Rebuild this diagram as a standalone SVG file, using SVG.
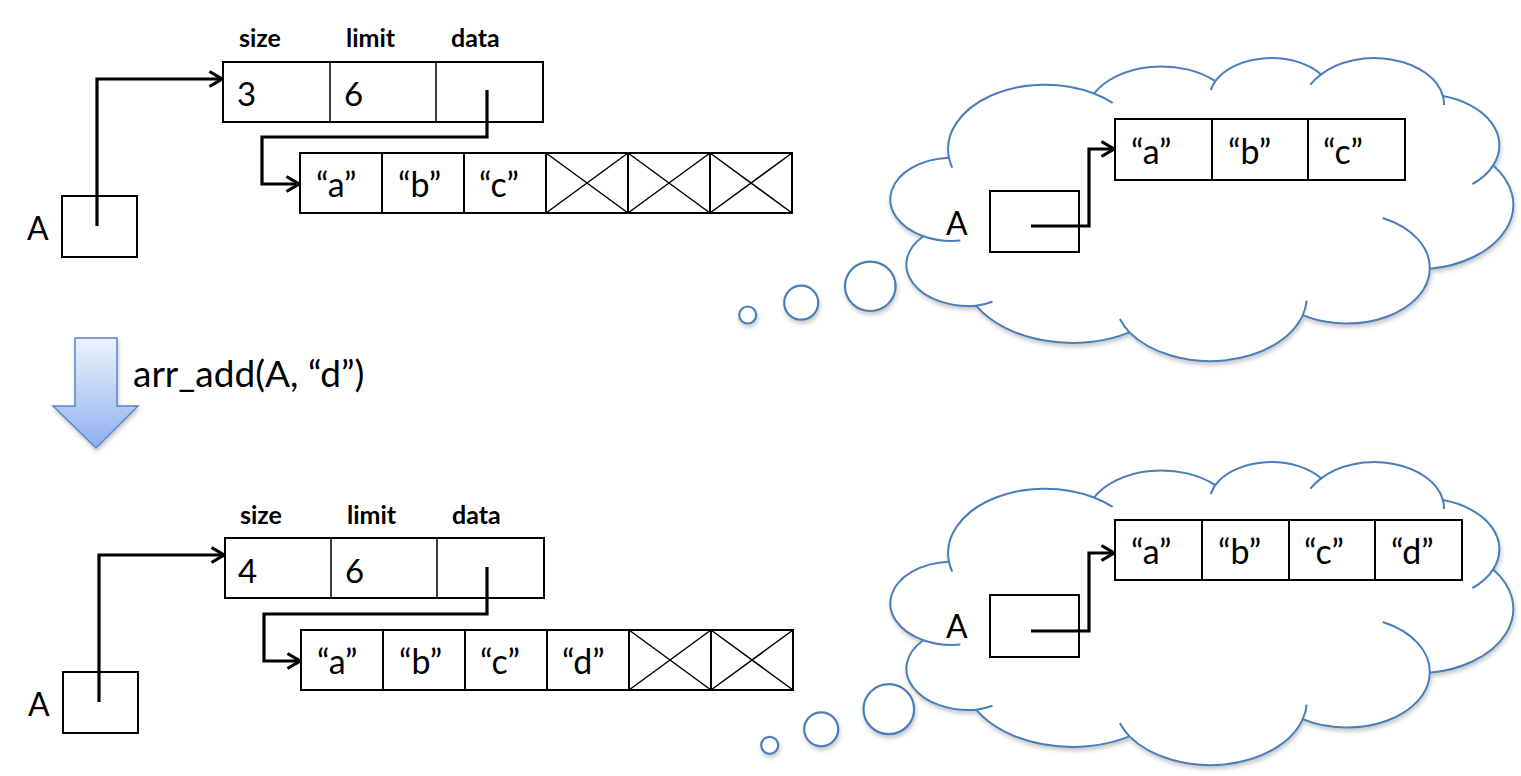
<svg xmlns="http://www.w3.org/2000/svg" width="1521" height="776" viewBox="0 0 1521 776">
<defs>
<style>
.box{fill:#fff;stroke:#000;stroke-width:2}
.thin{stroke:#000;stroke-width:1.5;fill:none}
.ptr{fill:none;stroke:#000;stroke-width:3.2;stroke-linejoin:miter}
.cloud{fill:#fff;stroke:#4a7ebb;stroke-width:2}
.mark{fill:none;stroke:#4a7ebb;stroke-width:2}
.bub{fill:#fff;stroke:#4a7ebb;stroke-width:2.2}
.t{font-family:Lato,'Liberation Sans',sans-serif;fill:#000}
.lbl{font-size:25px;font-weight:bold}
.num{font-size:33px}
.str{font-size:34px}
.big{font-size:32px}
</style>
<marker id="ah" viewBox="0 0 16 18" refX="14" refY="9" markerWidth="16" markerHeight="18" orient="auto" markerUnits="userSpaceOnUse">
<path d="M1.5 1.5 L14 9 L1.5 16.5" fill="none" stroke="#000" stroke-width="3.2"/>
</marker>
<linearGradient id="ag" x1="0" y1="0" x2="0" y2="1">
<stop offset="0" stop-color="#eef3fd"/>
<stop offset="1" stop-color="#8eb0ef"/>
</linearGradient>
<filter id="sh" x="-10%" y="-10%" width="125%" height="130%">
<feDropShadow dx="1" dy="3" stdDeviation="2" flood-color="#000" flood-opacity="0.22"/>
</filter>
<g id="cloudShape">
<path class="cloud" d="M948.97 157.79 A96.92 64.46 0 0 1 1094.0 93.5 A76.54 50.97 0 0 1 1215.3 81.1 A62.65 41.70 0 0 1 1321.2 74.4 A69.71 46.26 0 0 1 1442.9 96.1 A76.54 51.01 0 0 1 1493.2 165.4 A97.23 64.67 0 0 1 1429.8 268.8 A83.03 55.18 0 0 1 1302.8 315.2 A96.90 64.63 0 0 1 1129.5 332.4 A110.80 73.95 0 0 1 976.3 305.8 A62.57 41.51 0 0 1 923.3 236.2 A62.36 41.70 0 0 1 948.97 157.79 Z"/>
<path class="mark" d="M960.35 240.6 A62.36 41.70 0 0 1 923.3 236.2 M992.43 301.78 A62.57 41.51 0 0 1 976.3 305.8 M1129.5 332.4 A96.90 64.63 0 0 1 1119.9 319.0 M1306.7 300.7 A96.90 64.63 0 0 1 1302.8 315.2 M1382.8 218.0 A83.03 55.18 0 0 1 1429.8 268.8 M1493.2 165.4 A76.54 51.01 0 0 1 1472.4 184.2 M1442.9 96.1 A69.71 46.26 0 0 1 1444.0 105.0 M1310.3 84.7 A69.71 46.26 0 0 1 1321.2 74.4 M1210.8 90.1 A62.65 41.70 0 0 1 1215.3 81.1 M1094.0 93.5 A96.92 64.46 0 0 1 1112.6 102.9 M952.2 167.7 A96.92 64.46 0 0 1 948.97 157.79"/>
</g>
</defs>
<rect width="1521" height="776" fill="#fff"/>

<!-- ===== TOP STATE ===== -->
<g id="top-labels" class="t lbl">
<text x="239" y="47">size</text>
<text x="346" y="47">limit</text>
<text x="451" y="47">data</text>
</g>
<g id="top-struct">
<rect class="box" x="223" y="62" width="320" height="60"/>
<line class="thin" x1="330" y1="62" x2="330" y2="122" stroke-width="2"/>
<line class="thin" x1="436" y1="62" x2="436" y2="122" stroke-width="2"/>
<text class="t num" x="237" y="106">3</text>
<text class="t num" x="344" y="106">6</text>
</g>
<g id="top-array">
<rect class="box" x="300" y="153" width="492" height="60"/>
<path class="thin" style="stroke-width:2" d="M382 153V213M464 153V213M546 153V213M628 153V213M710 153V213"/>
<path class="thin" d="M546 153L628 213M628 153L546 213M628 153L710 213M710 153L628 213M710 153L792 213M792 153L710 213"/>
<text class="t str" x="316" y="197">“a”</text>
<text class="t str" x="398" y="197">“b”</text>
<text class="t str" x="479" y="197">“c”</text>
</g>
<g id="top-A">
<rect class="box" x="62" y="196" width="75" height="61"/>
<text class="t big" x="27" y="240">A</text>
</g>

<g id="top-bubbles" filter="url(#sh)">
<circle class="bub" cx="747.7" cy="315" r="8.5"/>
<circle class="bub" cx="801.2" cy="302.7" r="17"/>
<ellipse class="bub" cx="870.3" cy="286.3" rx="25.3" ry="24.7"/>
</g>
<g id="top-cloud" filter="url(#sh)">
<use href="#cloudShape"/>
</g>
<g id="top-cloud-A">
<rect class="box" x="990" y="191" width="89" height="61"/>
<text class="t big" x="946" y="235">A</text>
</g>
<g id="top-cloud-array">
<rect class="box" x="1115" y="119" width="290" height="61"/>
<path class="thin" style="stroke-width:2" d="M1212 119V180M1308 119V180"/>
<text class="t str" x="1131" y="164">“a”</text>
<text class="t str" x="1228" y="164">“b”</text>
<text class="t str" x="1323" y="164">“c”</text>
</g>

<!-- ===== TRANSITION ===== -->
<g id="down-arrow" filter="url(#sh)">
<path d="M75 338H117V406H138L96 448L53 406H75Z" fill="url(#ag)" stroke="#5a85c8" stroke-width="1.5"/>
</g>
<g id="op-label">
<text class="t" x="133" y="387" font-size="37">arr_add(A, “d”)</text>
</g>

<!-- ===== BOTTOM STATE ===== -->
<g id="bot-labels" class="t lbl">
<text x="240" y="524">size</text>
<text x="347" y="524">limit</text>
<text x="452" y="524">data</text>
</g>
<g id="bot-struct">
<rect class="box" x="225" y="538" width="319" height="60"/>
<line class="thin" x1="331" y1="538" x2="331" y2="598" stroke-width="2"/>
<line class="thin" x1="437" y1="538" x2="437" y2="598" stroke-width="2"/>
<text class="t num" x="238" y="583">4</text>
<text class="t num" x="345" y="583">6</text>
</g>
<g id="bot-array">
<rect class="box" x="301" y="630" width="492" height="60"/>
<path class="thin" style="stroke-width:2" d="M383 630V690M465 630V690M547 630V690M629 630V690M711 630V690"/>
<path class="thin" d="M629 630L711 690M711 630L629 690M711 630L793 690M793 630L711 690"/>
<text class="t str" x="317" y="674">“a”</text>
<text class="t str" x="399" y="674">“b”</text>
<text class="t str" x="480" y="674">“c”</text>
<text class="t str" x="562" y="674">“d”</text>
</g>
<g id="bot-A">
<rect class="box" x="63" y="672" width="75" height="61"/>
<text class="t big" x="28" y="716">A</text>
</g>

<g id="bot-bubbles" filter="url(#sh)">
<circle class="bub" cx="769.7" cy="745.3" r="8.5"/>
<circle class="bub" cx="821.2" cy="729.3" r="17"/>
<ellipse class="bub" cx="888.8" cy="709.2" rx="25.3" ry="25"/>
</g>
<g id="bot-cloud" filter="url(#sh)">
<use href="#cloudShape" transform="translate(0 404)"/>
</g>
<g id="bot-cloud-A">
<rect class="box" x="990" y="595" width="89" height="62"/>
<text class="t big" x="946" y="638">A</text>
</g>
<g id="bot-cloud-array">
<rect class="box" x="1115" y="520" width="347" height="60"/>
<path class="thin" style="stroke-width:2" d="M1202 520V580M1289 520V580M1375 520V580"/>
<text class="t str" x="1131" y="564">“a”</text>
<text class="t str" x="1218" y="564">“b”</text>
<text class="t str" x="1304" y="564">“c”</text>
<text class="t str" x="1391" y="564">“d”</text>
</g>

<!-- ===== CONNECTORS ===== -->
<g id="connectors" class="ptr">
<path d="M97 226V79H222" marker-end="url(#ah)"/>
<path d="M487 90V137H262V184H299" marker-end="url(#ah)"/>
<path d="M1031 226H1089V149H1114" marker-end="url(#ah)"/>
<path d="M99 702V555H224" marker-end="url(#ah)"/>
<path d="M487 567V614H264V661H300" marker-end="url(#ah)"/>
<path d="M1031 631H1089V553H1114" marker-end="url(#ah)"/>
</g>
</svg>
